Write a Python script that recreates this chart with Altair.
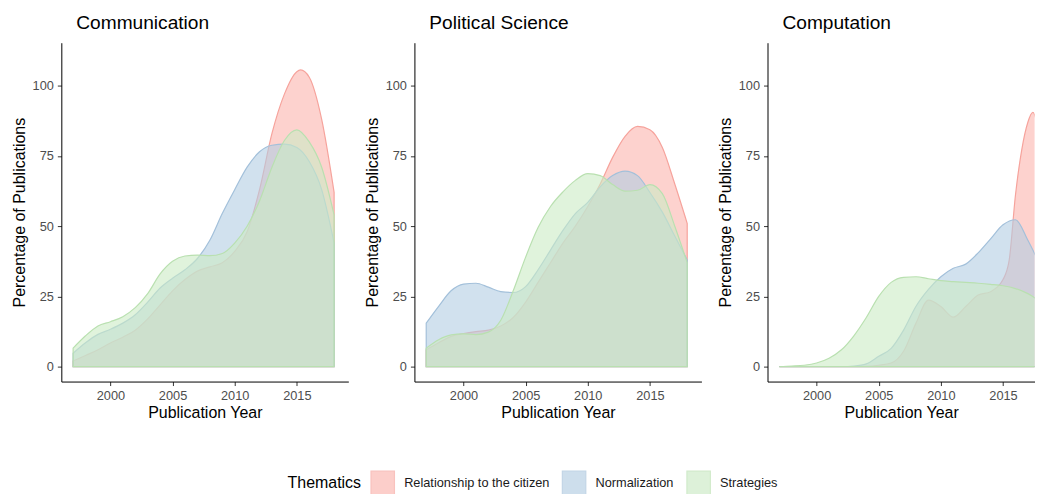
import altair as alt
import pandas as pd

FONT = "Liberation Sans"

THEMES = ["Relationship to the citizen", "Normalization", "Strategies"]
FILLS = ["#FBB4AE", "#B3CDE3", "#CCEBC5"]
STROKES = ["#F6A39C", "#A3C0DA", "#B9E0B0"]
PANELS = ["Communication", "Political Science", "Computation"]

YEARS = list(range(1997, 2019))

# Communication
COMM_REL_X = YEARS[:19] + [2015.3] + YEARS[19:]
COMM_REL_Y = [2, 4, 6, 8.4, 10.5, 13, 17, 22, 27, 31, 34, 35.5, 37, 41, 48, 63, 83, 97, 105,
              105.6, 103, 88, 62]
COMM_NORM_Y = [4.8, 8.5, 11.5, 13.3, 15.5, 18.5, 23, 28, 31.5, 34.5, 38.5, 45, 54.5, 63, 71,
               76.5, 78.8, 79.2, 78, 73, 63, 44]
COMM_STRAT_Y = [6.6, 11, 14.5, 16, 17.8, 21, 26, 33, 37.5, 39.4, 39.7, 39.5, 40.3, 44, 50, 59,
                71, 80.5, 84.3, 80, 71, 54]

# Political Science
POLI_REL_Y = [6, 8.5, 10.8, 11.8, 12.5, 13, 14.5, 17.5, 23, 30, 37, 44, 50, 57, 65, 74.5, 82,
              85.5, 84.3, 78, 65, 51]
POLI_NORM_Y = [15.5, 21.5, 27, 29.4, 29.7, 28.3, 26.7, 26.4, 28.5, 34.5, 41.5, 48.5, 54.5, 58.5,
               64, 68, 69.6, 68, 62, 55, 46.5, 38]
POLI_STRAT_Y = [6.6, 9.6, 11.3, 11.7, 11.4, 12.3, 16.5, 27, 39, 49.5, 57, 62.2, 66.3, 68.7, 68,
                64.8, 62.5, 62.8, 64.8, 61.6, 50, 37]

# Computation
COMP_REL_X = YEARS[:19] + [2015.5, 2016, 2016.5, 2017, 2017.4, 2018]
COMP_REL_Y = [0, 0, 0, 0, 0, 0, 0, 0.1, 0.5, 1.3, 5.5, 15.5, 23.7, 21.4, 17.6, 21.4, 25.5, 26.7, 31,
              38, 61, 77, 87, 90.5, 80]
COMP_NORM_Y = [0, 0, 0, 0, 0, 0, 0.2, 1, 3.7, 6.5, 13, 21.5, 27.5, 32, 35, 36.5, 40.5, 45.5, 50.5,
               52.3, 45, 36]
COMP_STRAT_Y = [0, 0.2, 0.5, 1.3, 3, 6, 11, 17.5, 25, 30, 31.8, 32, 31.3, 30.6, 30.3, 30, 29.7,
                29.3, 28.8, 27.8, 26, 23.2]

SERIES = [
    ("Communication", THEMES[0], COMM_REL_X, COMM_REL_Y),
    ("Communication", THEMES[1], YEARS, COMM_NORM_Y),
    ("Communication", THEMES[2], YEARS, COMM_STRAT_Y),
    ("Political Science", THEMES[0], YEARS, POLI_REL_Y),
    ("Political Science", THEMES[1], YEARS, POLI_NORM_Y),
    ("Political Science", THEMES[2], YEARS, POLI_STRAT_Y),
    ("Computation", THEMES[0], COMP_REL_X, COMP_REL_Y),
    ("Computation", THEMES[1], YEARS, COMP_NORM_Y),
    ("Computation", THEMES[2], YEARS, COMP_STRAT_Y),
]

rows = []
for panel, theme, xs, ys in SERIES:
    for x, y in zip(xs, ys):
        rows.append({"panel": panel, "theme": theme, "year": x, "value": y})
df = pd.DataFrame(rows)

XMIN = 1996.05
PX_PER_YEAR = 12.47
WIDTHS = [288, 288, 268]
HEIGHT = 340

legend = alt.Legend(
    title="Thematics", orient="none", legendX=227, legendY=429, offset=0,
    direction="horizontal",
    titleOrient="left", titleFontSize=16, titleFontWeight="normal", titleColor="black",
    titleFont=FONT, titlePadding=9, labelFont=FONT, labelFontSize=12.8, labelColor="#1a1a1a",
    labelOffset=9, columnPadding=10, symbolType="square", symbolSize=552,
    symbolStrokeWidth=1.2, symbolOpacity=0.65,
)


def make_panel(name, width):
    xmax = XMIN + width / PX_PER_YEAR
    layers = []
    for theme in THEMES:
        layer = (
            alt.Chart(df)
            .transform_filter(f"datum.panel == '{name}' && datum.theme == '{theme}'")
            .mark_area(interpolate="monotone", fillOpacity=0.6, strokeWidth=1.2, clip=True)
            .encode(
                x=alt.X("year:Q",
                        scale=alt.Scale(domain=[XMIN, xmax], nice=False, zero=False),
                        axis=alt.Axis(values=[2000, 2005, 2010, 2015], format="d",
                                      title="Publication Year")),
                y=alt.Y("value:Q", stack=None,
                        scale=alt.Scale(domain=[-5.3, 115.3], nice=False),
                        axis=alt.Axis(values=[0, 25, 50, 75, 100],
                                      title="Percentage of Publications")),
                y2=alt.datum(0),
                fill=alt.Fill("theme:N", scale=alt.Scale(domain=THEMES, range=FILLS),
                              legend=legend),
                stroke=alt.Stroke("theme:N", scale=alt.Scale(domain=THEMES, range=STROKES),
                                  legend=legend),
            )
        )
        layers.append(layer)
    return alt.layer(*layers).properties(
        width=width, height=HEIGHT,
        title=alt.TitleParams(text=name, anchor="start", frame="group", dx=15, fontSize=19.2,
                              fontWeight="normal", color="black", font=FONT,
                              baseline="alphabetic", offset=-5.5),
    )


chart = (
    alt.hconcat(*[make_panel(p, w) for p, w in zip(PANELS, WIDTHS)], spacing=15.3)
    .properties(padding={"left": 2.5, "top": 5, "right": 0, "bottom": 0})
    .configure_view(stroke=None)
    .configure_axis(
        grid=False, domainColor="black", domainWidth=1, tickColor="#333333", tickWidth=1,
        tickSize=4, labelColor="#4D4D4D", labelFontSize=12.8, labelFont=FONT, labelPadding=4,
        titleFont=FONT, titleFontSize=16, titleFontWeight="normal", titleColor="black",
    )
    .configure_axisX(titlePadding=2.5)
    .configure_axisY(titlePadding=5)
)

chart.save("out.html", embed_options={"renderer": "svg", "actions": False})
